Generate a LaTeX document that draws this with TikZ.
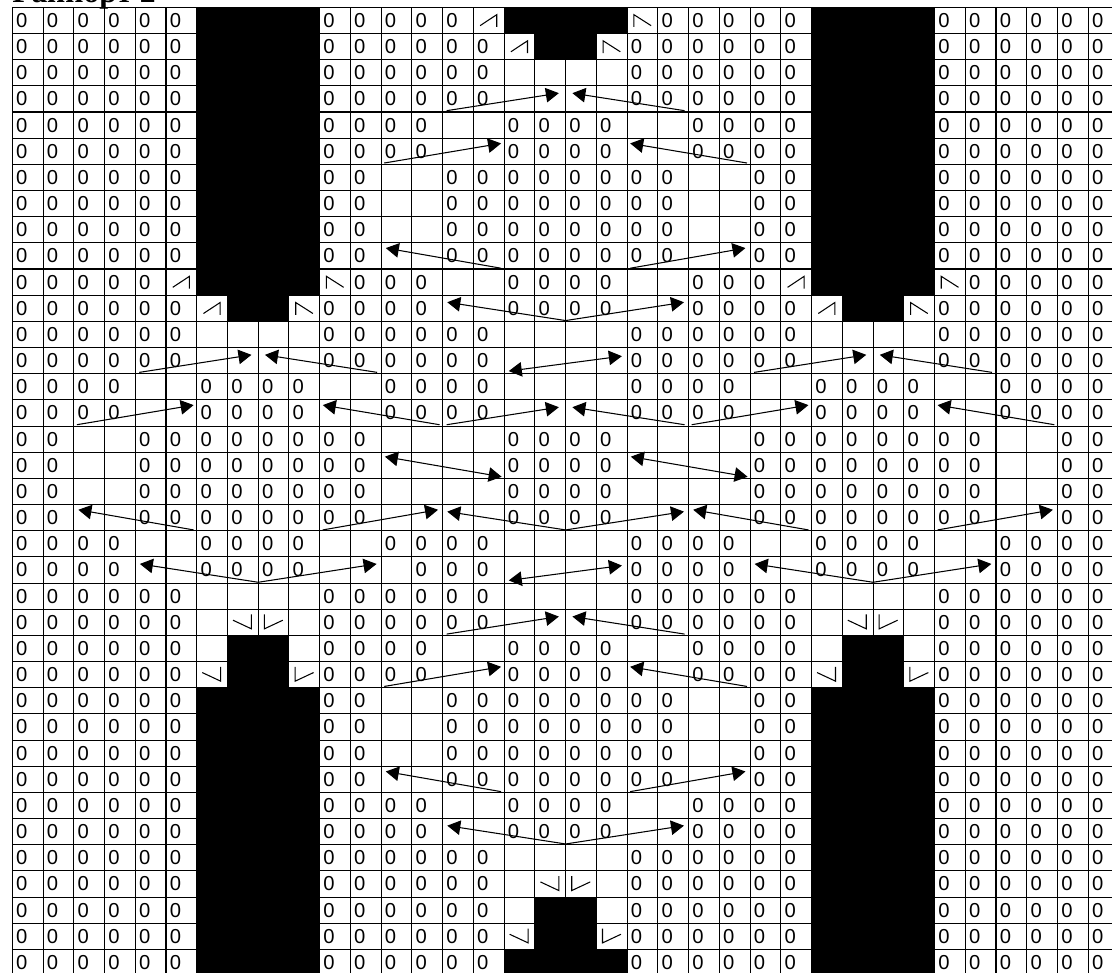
\documentclass[tikz,border=0pt]{standalone}
\usepackage{fontspec}
\setmainfont{Liberation Serif}
\newfontfamily\cellfont{Liberation Sans}
\usetikzlibrary{arrows.meta}

% one chart row: o = yarn over, B = no stitch, . = empty,
% a/b = top decreases, c/d = bottom decreases
\newcount\cellcol
\newcommand\chartrow[2]{%
  \global\cellcol=0 \def\chartr{#1}\chartcell#2\relax}
\newcommand\chartcell[1]{%
  \ifx\relax#1\else
    \chartput{#1}%
    \global\advance\cellcol by 1\relax
    \expandafter\chartcell
  \fi}
\newcommand\chartput[1]{%
  \if o#1\node[yarnover] (s\chartr-\the\cellcol) at (\the\cellcol+.306,\chartr+.5) {0};\fi
  \if B#1\fill[black] (\the\cellcol,\chartr) rectangle ++(1,1);\fi
  \if a#1\draw[decmark] (\the\cellcol+.22,\chartr+.7) -- ++(.54,-.42) -- ++(0,.47);\fi
  \if b#1\draw[decmark] (\the\cellcol+.22,\chartr+.75) -- ++(0,-.47) -- ++(.56,.42);\fi
  \if c#1\draw[decmark] (\the\cellcol+.18,\chartr+.42) -- ++(.6,.33) -- ++(0,-.55);\fi
  \if d#1\draw[decmark] (\the\cellcol+.2,\chartr+.2) -- ++(0,.55) -- ++(.6,-.33);\fi}

\begin{document}
\begin{tikzpicture}[x=0.6148cm,y=-0.5234cm,
  yarnover/.style={font=\cellfont\fontsize{11.5}{12}\selectfont,inner sep=0pt},
  decmark/.style={line width=.6pt},
  gridline/.style={line width=.6pt},
  cable/.style={line width=.6pt,-{Triangle[length=2.6mm,width=2.9mm]}},
  twocable/.style={cable,{Triangle[length=2.6mm,width=2.9mm]}-{Triangle[length=2.6mm,width=2.9mm]}},
  title/.style={font=\bfseries\fontsize{18}{20}\selectfont,inner sep=0pt}]
\useasboundingbox (-0.4,-0.279) rectangle (35.774,36.863);
\clip (-0.4,-0.279) rectangle (35.774,36.863);

\node[title,anchor=base west] (title) at (-0.01,-0.2) {Раппорт 2};

\chartrow{0}{ooooooBBBBoooooaBBBBboooooBBBBoooooo}
\chartrow{1}{ooooooBBBBooooooaBBbooooooBBBBoooooo}
\chartrow{2}{ooooooBBBBoooooo....ooooooBBBBoooooo}
\chartrow{3}{ooooooBBBBoooooo....ooooooBBBBoooooo}
\chartrow{4}{ooooooBBBBoooo..oooo..ooooBBBBoooooo}
\chartrow{5}{ooooooBBBBoooo..oooo..ooooBBBBoooooo}
\chartrow{6}{ooooooBBBBoo..oooooooo..ooBBBBoooooo}
\chartrow{7}{ooooooBBBBoo..oooooooo..ooBBBBoooooo}
\chartrow{8}{ooooooBBBBoo..oooooooo..ooBBBBoooooo}
\chartrow{9}{ooooooBBBBoo..oooooooo..ooBBBBoooooo}
\chartrow{10}{oooooaBBBBbooo..oooo..oooaBBBBbooooo}
\chartrow{11}{ooooooaBBboooo..oooo..ooooaBBboooooo}
\chartrow{12}{oooooo....oooooo....oooooo....oooooo}
\chartrow{13}{oooooo....oooooo....oooooo....oooooo}
\chartrow{14}{oooo..oooo..oooo....oooo..oooo..oooo}
\chartrow{15}{oooo..oooo..oooo....oooo..oooo..oooo}
\chartrow{16}{oo..oooooooo....oooo....oooooooo..oo}
\chartrow{17}{oo..oooooooo....oooo....oooooooo..oo}
\chartrow{18}{oo..oooooooo....oooo....oooooooo..oo}
\chartrow{19}{oo..oooooooo....oooo....oooooooo..oo}
\chartrow{20}{oooo..oooo..oooo....oooo..oooo..oooo}
\chartrow{21}{oooo..oooo...ooo....oooo..oooo..oooo}
\chartrow{22}{oooooo....oooooo....oooooo....oooooo}
\chartrow{23}{oooooo.cd.oooooo....oooooo.cd.oooooo}
\chartrow{24}{oooooo.BB.oooo..oooo..oooo.BB.oooooo}
\chartrow{25}{oooooocBBdoooo..oooo..oooocBBdoooooo}
\chartrow{26}{ooooooBBBBoo..oooooooo..ooBBBBoooooo}
\chartrow{27}{ooooooBBBBoo..oooooooo..ooBBBBoooooo}
\chartrow{28}{ooooooBBBBoo..oooooooo..ooBBBBoooooo}
\chartrow{29}{ooooooBBBBoo..oooooooo..ooBBBBoooooo}
\chartrow{30}{ooooooBBBBoooo..oooo..ooooBBBBoooooo}
\chartrow{31}{ooooooBBBBoooo..oooo..ooooBBBBoooooo}
\chartrow{32}{ooooooBBBBoooooo....ooooooBBBBoooooo}
\chartrow{33}{ooooooBBBBoooooo.cd.ooooooBBBBoooooo}
\chartrow{34}{ooooooBBBBoooooo.BB.ooooooBBBBoooooo}
\chartrow{35}{ooooooBBBBoooooocBBdooooooBBBBoooooo}
\chartrow{36}{ooooooBBBBooooooBBBBooooooBBBBoooooo}

% grid
\foreach \r in {0,...,37}
  \draw[gridline] (0,\r) -- (36,\r);
\foreach \c in {0,...,36}
  \draw[gridline] (\c,0) -- (\c,37);

% converging pairs
\foreach \cx/\r in {18/3,8/13,28/13,18/15,18/23}{
  \draw[cable] (\cx-3.87,\r+.95) -- (\cx-.22,\r+.28);
  \draw[cable] (\cx+3.87,\r+.95) -- (\cx+.22,\r+.28);
}
% outer pairs
\foreach \cx/\r in {18/5,8/15,28/15,18/25}{
  \draw[cable] (\cx-5.9,\r+.95) -- (\cx-2.1,\r+.2);
  \draw[cable] (\cx+5.9,\r+.95) -- (\cx+2.1,\r+.2);
}
% diverging pairs
\foreach \cx/\r in {18/9,8/19,28/19,18/29}{
  \draw[cable] (\cx-2.1,\r+.97) -- (\cx-5.85,\r+.2);
  \draw[cable] (\cx+2.1,\r+.97) -- (\cx+5.85,\r+.2);
}
% pairs from one point
\foreach \cx/\r in {18/11,8/21,28/21,18/19,18/31}{
  \draw[cable] (\cx,\r+.97) -- (\cx-3.85,\r+.27);
  \draw[cable] (\cx,\r+.97) -- (\cx+3.85,\r+.27);
}
% crossings
\foreach \cx/\r in {18/13,18/21}
  \draw[twocable] (\cx-1.85,\r+.9) -- (\cx+1.83,\r+.33);
\foreach \cx/\r in {14/17,22/17}
  \draw[twocable] (\cx-1.88,\r+.17) -- (\cx+1.92,\r+.94);
\end{tikzpicture}
\end{document}
